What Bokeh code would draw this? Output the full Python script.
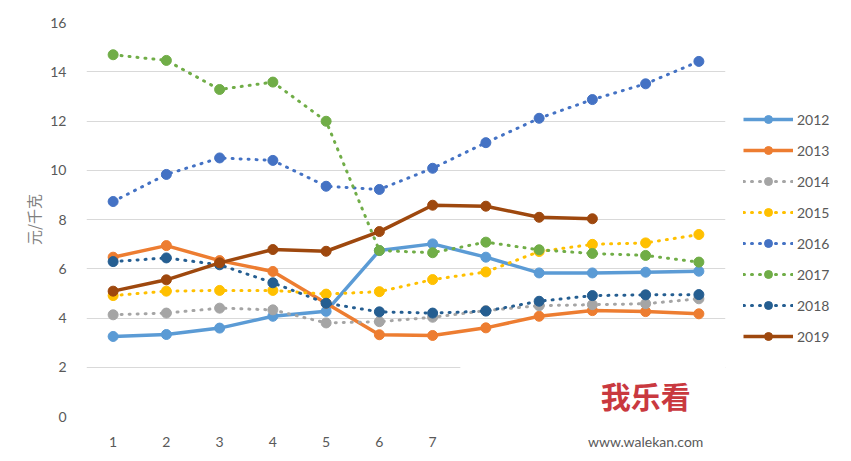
from bokeh.plotting import figure
from bokeh.models import (Range1d, FixedTicker, Legend, LegendItem, BoxAnnotation, Label)
from bokeh.embed import file_html
from bokeh.resources import INLINE

months = list(range(1, 13))
# months 8-12 are hidden under the watermark in the picture; its URL sits under month 11
tick_labels = ["1", "2", "3", "4", "5", "6", "7", "", "", "", "www.walekan.com", ""]
y_ticks = [0, 2, 4, 6, 8, 10, 12, 14, 16]

y2012 = [3.25, 3.33, 3.59, 4.07, 4.27, 6.74, 7.01, 6.47, 5.83, 5.83, 5.86, 5.90]
y2013 = [6.47, 6.94, 6.33, 5.89, 4.60, 3.32, 3.29, 3.60, 4.07, 4.30, 4.26, 4.17]
y2014 = [4.13, 4.20, 4.40, 4.33, 3.80, 3.85, 4.03, 4.30, 4.50, 4.54, 4.58, 4.78]
y2015 = [4.91, 5.09, 5.12, 5.12, 4.97, 5.07, 5.56, 5.87, 6.70, 6.99, 7.05, 7.39]
y2016 = [8.73, 9.83, 10.50, 10.40, 9.35, 9.22, 10.08, 11.12, 12.11, 12.87, 13.51, 14.42]
y2017 = [14.69, 14.46, 13.28, 13.58, 11.99, 6.74, 6.65, 7.08, 6.77, 6.62, 6.54, 6.27]
y2018 = [6.29, 6.44, 6.16, 5.43, 4.60, 4.25, 4.20, 4.28, 4.68, 4.91, 4.94, 4.95]
y2019 = [5.09, 5.55, 6.24, 6.78, 6.71, 7.51, 8.58, 8.54, 8.09, 8.03]

series = [
    ("2012", y2012, "#5B9BD5", "solid"),
    ("2013", y2013, "#ED7D31", "solid"),
    ("2014", y2014, "#A5A5A5", "dot"),
    ("2015", y2015, "#FFC000", "dot"),
    ("2016", y2016, "#4472C4", "dot"),
    ("2017", y2017, "#70AD47", "dot"),
    ("2018", y2018, "#255E91", "dot"),
    ("2019", y2019, "#9E480E", "solid"),
]

FONT = "Lato"
p = figure(frame_width=639, frame_height=394, output_backend="svg", toolbar_location=None,
           x_range=Range1d(0.5, 12.5), y_range=Range1d(0, 16),
           min_border_left=86, min_border_top=22, min_border_bottom=45,
           min_border_right=10)
p.outline_line_color = None
p.background_fill_color = "white"
p.border_fill_color = "white"

p.xgrid.grid_line_color = None
p.ygrid.grid_line_color = "#D9D9D9"
p.ygrid.grid_line_width = 1
p.yaxis.ticker = FixedTicker(ticks=y_ticks)
p.xaxis.ticker = FixedTicker(ticks=months)
p.xaxis.major_label_overrides = {m: t for m, t in zip(months, tick_labels)}

for ax in (p.xaxis[0], p.yaxis[0]):
    ax.axis_line_color = None
    ax.major_tick_line_color = None
    ax.minor_tick_line_color = None
    ax.major_label_text_font = FONT
    ax.major_label_text_font_size = "14px"
    ax.major_label_text_color = "#595959"
p.yaxis.major_label_standoff = 14
p.xaxis.major_label_standoff = 10
p.yaxis.axis_label = "元/千克"
p.yaxis.axis_label_text_font = "Noto Sans CJK SC"
p.yaxis.axis_label_text_font_size = "15px"
p.yaxis.axis_label_text_font_style = "normal"
p.yaxis.axis_label_text_color = "#7F7F7F"
p.yaxis.axis_label_standoff = 3

items = []
for name, ys, color, style in series:
    xs = months[:len(ys)]
    if style == "solid":
        lr = p.line(xs, ys, line_color=color, line_width=3.5, line_join="round")
    else:
        lr = p.line(xs, ys, line_color=color, line_width=3, line_dash="1 7",
                    line_cap="round", line_join="round")
    sr = p.scatter(xs, ys, marker="circle", size=10, fill_color=color,
                   line_color=color)
    items.append(LegendItem(label=name, renderers=[lr, sr]))

legend = Legend(items=items, location="top_left", orientation="vertical",
                glyph_width=50, glyph_height=20, label_height=20, spacing=11,
                label_standoff=4, label_text_font=FONT,
                label_text_font_size="14px", label_text_color="#595959",
                title=" ", title_text_font_size="10px", title_standoff=58,
                border_line_color=None, background_fill_alpha=0,
                padding=10, margin=18)
p.add_layout(legend, "right")

# white patch where the watermark sits in the picture
p.add_layout(BoxAnnotation(left=7.52, top=2.85, fill_color="white",
                           fill_alpha=1.0, line_color=None))
p.add_layout(Label(x=11.0, y=0.0, text="我乐看", text_align="center",
                   text_baseline="bottom", text_font="Noto Sans CJK SC",
                   text_font_size="30px", text_font_style="bold",
                   text_color="#C9393F"))

open("out.html", "w").write(file_html(p, INLINE))
